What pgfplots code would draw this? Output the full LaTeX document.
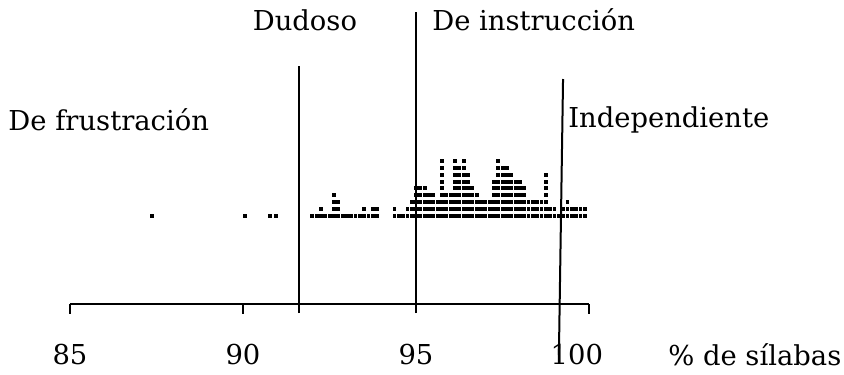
\documentclass[border=0pt]{standalone}
\usepackage{pgfplots}
\pgfplotsset{compat=1.18}
\usepackage{pgfplotstable}
\usepackage{fontspec}
\setmainfont{DejaVu Serif}

% x = porcentaje de silabas, h = numero de puntos apilados
\pgfplotstableread{
x h
87.37 1
90.06 1
90.78 1
90.95 1
92.000 1
92.125 1
92.250 2
92.375 1
92.500 1
92.625 4
92.750 3
92.875 1
93.000 1
93.125 1
93.250 1
93.375 1
93.500 2
93.625 1
93.750 2
93.875 2
94.375 2
94.500 1
94.625 1
94.750 2
94.875 3
95.000 5
95.125 5
95.250 5
95.375 4
95.500 4
95.625 3
95.750 9
95.875 4
96.000 4
96.125 9
96.250 8
96.375 9
96.500 7
96.625 5
96.750 4
96.875 3
97.000 3
97.125 3
97.250 6
97.375 9
97.500 8
97.625 8
97.750 7
97.875 6
98.000 6
98.125 5
98.250 3
98.375 3
98.500 3
98.625 3
98.750 7
98.875 2
99.000 2
99.125 1
99.250 2
99.375 3
99.500 2
99.625 2
99.750 2
99.875 2
}\stack

\begin{document}
\begin{tikzpicture}
\begin{axis}[
  scale only axis,
  width=422pt, height=187pt,
  xmin=82.977, xmax=107.370,
  ymin=0, ymax=374,
  axis lines=none,
  clip=false,
  font=\fontsize{13.7}{16}\selectfont,
]
\coordinate (bl) at (rel axis cs:0,0);
\coordinate (tr) at (rel axis cs:1,1);

\pgfplotsinvokeforeach{1,...,9}{
  \addplot[only marks, mark=square*, mark size=0.72pt, black]
    table[x=x, y expr={\thisrow{h}>=#1 ? 158.5+6.8*(#1-1) : nan}] {\stack};
}

% eje horizontal
\addplot[black, line width=1.2pt] coordinates {(85,70) (100,70)};
\addplot[black, line width=1.2pt] coordinates {(85,70) (85,60)};
\addplot[black, line width=1.2pt] coordinates {(90,70) (90,60)};
\addplot[black, line width=1.2pt] coordinates {(100,70) (100,60)};

% lineas de corte
\addplot[black, line width=1pt] coordinates {(91.62,61) (91.62,308)};
\addplot[black, line width=1pt] coordinates {(95,61) (95,362)};
\addplot[black, line width=1pt] coordinates {(99.25,295) (99.13,19)};

\node at (axis cs:85,19) {85};
\node at (axis cs:90,19) {90};
\node at (axis cs:95,19) {95};
\node at (axis cs:99.65,19) {100};
\node[anchor=west, inner sep=0pt] at (axis cs:102.28,19) {\% de sílabas};

\node at (axis cs:91.79,354) {Dudoso};
\node[anchor=west, inner sep=0pt] at (axis cs:95.46,354) {De instrucción};
\node[anchor=west, inner sep=0pt] at (axis cs:83.21,254) {De frustración};
\node[anchor=west, inner sep=0pt] at (axis cs:99.39,254) {Independiente};
\end{axis}
\pgfresetboundingbox
\useasboundingbox (bl) rectangle (tr);
\end{tikzpicture}
\end{document}
